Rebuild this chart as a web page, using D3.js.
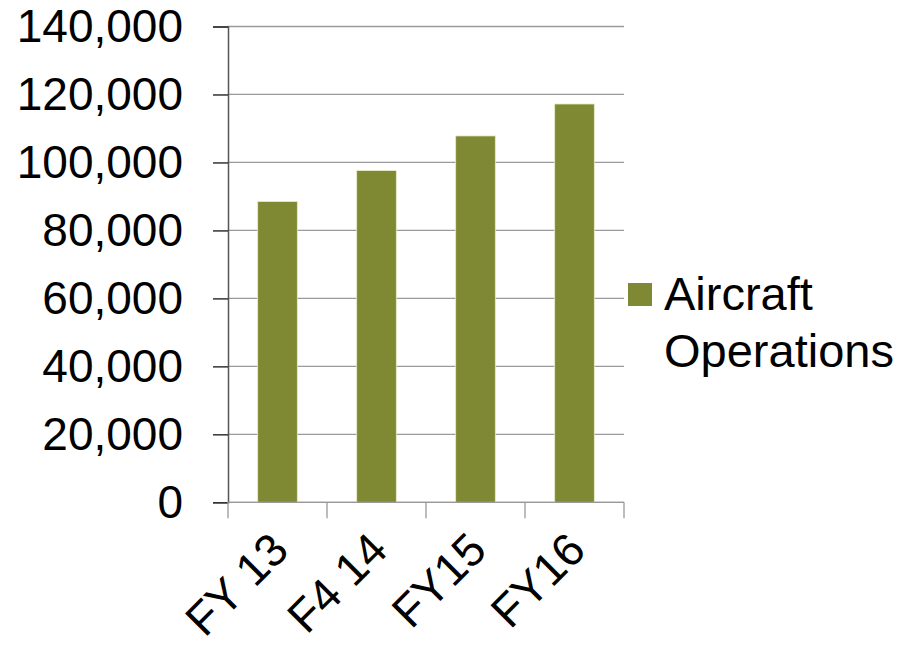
<!DOCTYPE html>
<html>
<head>
<meta charset="utf-8">
<script src="https://cdn.jsdelivr.net/npm/d3@7"></script>
<style>
  body { margin: 0; background: #fff; }
  text { font-family: "Liberation Sans", Arial, sans-serif; fill: #000; }
</style>
</head>
<body>
<svg></svg>
<script>
// Size of the SVG
var width = 915;
var height = 651;

// Chart data
const categories = ["FY 13", "F4 14", "FY15", "FY16"];
const operations = [88500, 97600, 107800, 117200];
const yTicks = [0, 20000, 40000, 60000, 80000, 100000, 120000, 140000];
const seriesName = ["Aircraft", "Operations"];

const barColor = "#7f8832";

var svg = d3.select("svg").attr("width", width).attr("height", height);

// Plot area
let plotLeft = 228, plotRight = 624, plotTop = 26.5, plotBottom = 502.3;

//Create The Scales
let xScale = d3.scaleBand().domain(categories).range([plotLeft, plotRight]).padding(0);
let yScale = d3.scaleLinear().domain([0, 140000]).range([plotBottom, plotTop]);

//Gridlines
svg.append("g")
    .selectAll("line")
    .data(yTicks)
    .enter()
    .append("line")
    .attr("x1", plotLeft)
    .attr("x2", plotRight)
    .attr("y1", d => yScale(d))
    .attr("y2", d => yScale(d))
    .attr("stroke", "#9a9a9a")
    .attr("stroke-width", 1.3);

//Bars
let barW = xScale.bandwidth() * 0.4;
svg.append("g")
    .selectAll("rect")
    .data(operations)
    .enter()
    .append("rect")
    .attr("x", (d, i) => xScale(categories[i]) + (xScale.bandwidth() - barW) / 2)
    .attr("y", d => yScale(d))
    .attr("width", barW)
    .attr("height", d => plotBottom - yScale(d))
    .attr("fill", barColor)
    .attr("stroke", "#e8ecc8")
    .attr("stroke-width", 0.8);

//Y Axis
let y_Axis = d3.axisLeft(yScale)
    .tickValues(yTicks)
    .tickSize(15)
    .tickPadding(30)
    .tickFormat(d3.format(","));

let gy = svg.append("g").attr("transform", "translate(" + plotLeft + ",0)").call(y_Axis);
gy.select(".domain").attr("stroke", "#555").attr("stroke-width", 1.5);
gy.selectAll(".tick line").attr("stroke", "#333").attr("stroke-width", 1.5);
gy.selectAll(".tick text")
    .style("font-size", "46px")
    .style("font-family", "'Liberation Sans', Arial, sans-serif")
    .attr("fill", "#000");

//X Axis (ticks on the category boundaries)
let edges = categories.map(c => xScale(c)).concat([plotRight]);
let gx = svg.append("g");
gx.append("line")
    .attr("x1", plotLeft).attr("x2", plotRight)
    .attr("y1", plotBottom).attr("y2", plotBottom)
    .attr("stroke", "#999").attr("stroke-width", 1.3);
gx.selectAll(".xtick")
    .data(edges)
    .enter()
    .append("line")
    .attr("class", "xtick")
    .attr("x1", d => d).attr("x2", d => d)
    .attr("y1", plotBottom).attr("y2", plotBottom + 16)
    .attr("stroke", "#999").attr("stroke-width", 1.3);

//X labels, rotated
gx.selectAll(".xlabel")
    .data(categories)
    .enter()
    .append("text")
    .attr("class", "xlabel")
    .style("font-size", "46px")
    .attr("text-anchor", "end")
    .attr("transform", d => "translate(" + (xScale(d) + xScale.bandwidth() / 2 - 10) + ",529) rotate(-45)")
    .attr("dy", "0.72em")
    .text(d => d);

//Legend
let legend = svg.append("g");
legend.append("rect")
    .attr("x", 628).attr("y", 283)
    .attr("width", 24).attr("height", 23)
    .attr("fill", barColor);
legend.selectAll("text")
    .data(seriesName)
    .enter()
    .append("text")
    .style("font-size", "47px")
    .attr("x", 664)
    .attr("y", (d, i) => 310 + i * 57)
    .text(d => d);
</script>
</body>
</html>
